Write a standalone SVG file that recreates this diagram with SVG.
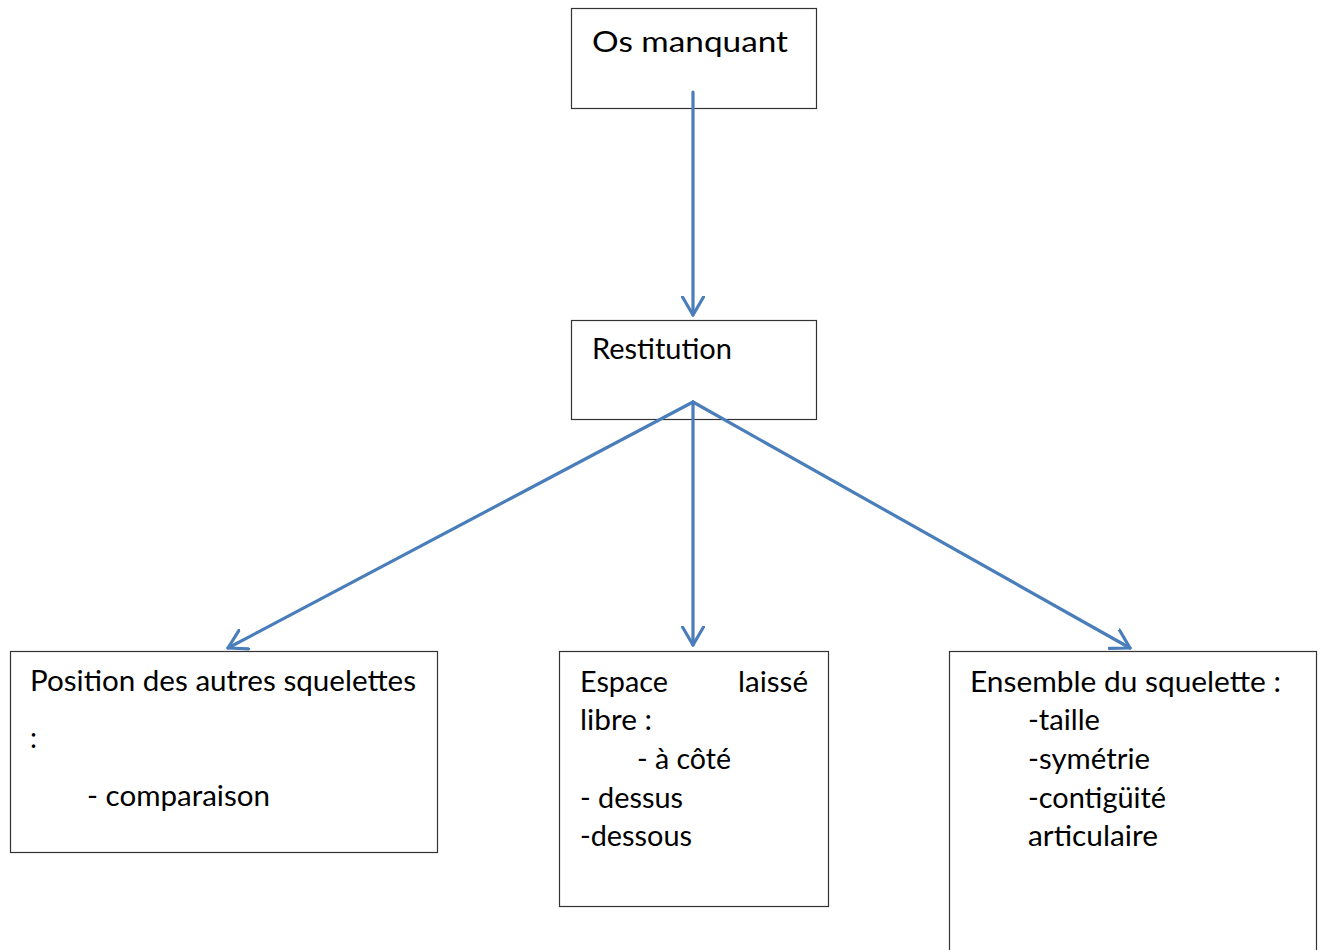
<svg xmlns="http://www.w3.org/2000/svg" width="1322" height="950" viewBox="0 0 1322 950">
<style>
.box{fill:#fff;stroke:#333;stroke-width:1.2}
.t{font-family:Lato,"Open Sans","Liberation Sans",sans-serif;font-size:28px;fill:#000}
.c{stroke:#4a7ebb;stroke-width:3.2;fill:none;stroke-linecap:round;stroke-linejoin:round}
</style>
<defs>
<marker id="ah" viewBox="0 0 22 24" refX="19" refY="12" markerWidth="22" markerHeight="24" markerUnits="userSpaceOnUse" orient="auto">
<path d="M1,1.5 L19,12 L1,22.5" fill="none" stroke="#4a7ebb" stroke-width="3.2" stroke-linecap="round" stroke-linejoin="round"/>
</marker>
</defs>
<rect width="1322" height="950" fill="#fff"/>
<g id="n1"><rect class="box" x="571.5" y="8.5" width="245" height="100"/><text class="t" x="592" y="52" textLength="196" lengthAdjust="spacingAndGlyphs">Os manquant</text></g>
<g id="n2"><rect class="box" x="571.5" y="320.5" width="245" height="99"/><text class="t" x="592" y="359" textLength="140" lengthAdjust="spacingAndGlyphs">Restitution</text></g>
<g id="n3"><rect class="box" x="10.5" y="651.5" width="427" height="201"/>
<text class="t" x="30" y="691" textLength="386" lengthAdjust="spacingAndGlyphs">Position des autres squelettes</text>
<text class="t" x="30" y="748">:</text>
<text class="t" x="87" y="806" textLength="183" lengthAdjust="spacingAndGlyphs">- comparaison</text></g>
<g id="n4"><rect class="box" x="559.5" y="651.5" width="269" height="255"/>
<text class="t" x="580" y="692" textLength="88" lengthAdjust="spacingAndGlyphs">Espace</text>
<text class="t" x="738" y="692" textLength="70" lengthAdjust="spacingAndGlyphs">laissé</text>
<text class="t" x="580" y="730" textLength="72" lengthAdjust="spacingAndGlyphs">libre :</text>
<text class="t" x="637" y="769" textLength="94" lengthAdjust="spacingAndGlyphs">- à côté</text>
<text class="t" x="580" y="808" textLength="103" lengthAdjust="spacingAndGlyphs">- dessus</text>
<text class="t" x="580" y="846" textLength="112" lengthAdjust="spacingAndGlyphs">-dessous</text></g>
<g id="n5"><rect class="box" x="949.5" y="651.5" width="367" height="310"/>
<text class="t" x="970" y="692" textLength="311" lengthAdjust="spacingAndGlyphs">Ensemble du squelette :</text>
<text class="t" x="1028" y="730" textLength="72" lengthAdjust="spacingAndGlyphs">-taille</text>
<text class="t" x="1028" y="769" textLength="122" lengthAdjust="spacingAndGlyphs">-symétrie</text>
<text class="t" x="1028" y="808" textLength="138" lengthAdjust="spacingAndGlyphs">-contigüité</text>
<text class="t" x="1028" y="846" textLength="130" lengthAdjust="spacingAndGlyphs">articulaire</text></g>
<g id="connectors">
<line class="c" x1="693" y1="92" x2="693" y2="315" marker-end="url(#ah)"/>
<line class="c" x1="693" y1="402" x2="228" y2="648" marker-end="url(#ah)"/>
<line class="c" x1="693" y1="402" x2="693" y2="645" marker-end="url(#ah)"/>
<line class="c" x1="693" y1="402" x2="1130" y2="648" marker-end="url(#ah)"/>
</g>
</svg>
